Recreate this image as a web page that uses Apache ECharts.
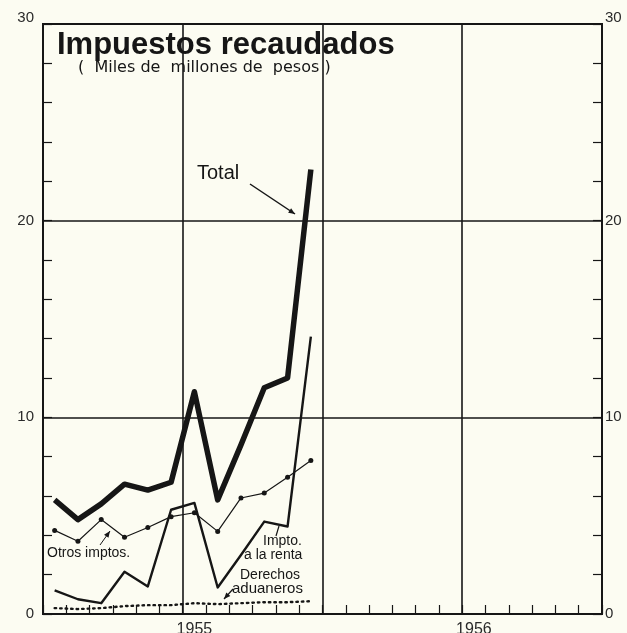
<!DOCTYPE html>
<html>
<head>
<meta charset="utf-8">
<script src="https://cdn.jsdelivr.net/npm/echarts@6/dist/echarts.min.js"></script>
<style>
  html, body { margin: 0; padding: 0; background: #fcfcf2; }
  #chart { width: 627px; height: 633px; }
</style>
</head>
<body>
<div id="chart"></div>
<script>
// meses de julio 1954 a junio 1956
const months = ['jul', 'ago', 'sep', 'oct', 'nov', 'dic', 'ene', 'feb', 'mar', 'abr', 'may', 'jun',
                'jul', 'ago', 'sep', 'oct', 'nov', 'dic', 'ene', 'feb', 'mar', 'abr', 'may', 'jun'];
const yearStarts = [6, 18]; // indice del mes de enero
const yearLabels = ['1955', '1956'];

// miles de millones de pesos
const total = [5.8, 4.8, 5.6, 6.6, 6.3, 6.7, 11.3, 5.8, 8.6, 11.5, 12.0, 22.6];
const otros = [4.25, 3.7, 4.8, 3.9, 4.4, 4.95, 5.15, 4.2, 5.9, 6.15, 6.95, 7.8];
const renta = [1.2, 0.75, 0.55, 2.15, 1.4, 5.3, 5.65, 1.35, 3.0, 4.7, 4.45, 14.1];
const derechos = [0.3, 0.25, 0.3, 0.4, 0.45, 0.45, 0.55, 0.5, 0.55, 0.6, 0.6, 0.65];

const ink = '#161616';
const font = 'Liberation Sans';

// flecha simple: linea + punta
function arrow(x1, y1, x2, y2, w) {
  const a = Math.atan2(y2 - y1, x2 - x1);
  const L = 7, s = 0.4;
  return {
    type: 'group',
    children: [
      { type: 'line', shape: { x1: x1, y1: y1, x2: x2, y2: y2 }, style: { stroke: ink, lineWidth: w || 1.3 } },
      {
        type: 'polygon',
        shape: {
          points: [
            [x2, y2],
            [x2 - L * Math.cos(a - s), y2 - L * Math.sin(a - s)],
            [x2 - L * Math.cos(a + s), y2 - L * Math.sin(a + s)]
          ]
        },
        style: { fill: ink }
      }
    ]
  };
}

function label(text, x, y, size, family) {
  return {
    type: 'text', left: x, top: y,
    style: { text: text, fill: ink, font: (size || 14) + 'px "' + (family || font) + '"' }
  };
}

// "30" va un poco arriba de la esquina
function yLabel(v) {
  return v === 30 ? '{top|30}' : String(v);
}

const chart = echarts.init(document.getElementById('chart'));

const option = {
  backgroundColor: '#fcfcf2',
  animation: false,
  title: {
    text: 'Impuestos recaudados',
    left: 57,
    top: 30,
    padding: 0,
    textStyle: { fontFamily: font, fontSize: 31, fontWeight: 'bold', color: ink }
  },
  grid: {
    left: 43, right: 25, top: 24, bottom: 19,
    outerBoundsMode: 'none',
    show: true, borderColor: ink, borderWidth: 2, backgroundColor: 'transparent'
  },
  xAxis: {
    type: 'category',
    data: months,
    boundaryGap: true,
    axisLine: { show: true, lineStyle: { color: ink, width: 2 } },
    axisTick: { show: true, inside: true, length: 9, interval: 0, lineStyle: { color: ink, width: 1.2 } },
    axisLabel: {
      interval: 0,
      color: '#2a2a2a', fontFamily: font, fontSize: 16, margin: 8,
      formatter: (v, i) => {
        const k = yearStarts.indexOf(i);
        return k >= 0 ? yearLabels[k] : '';
      }
    },
    splitLine: {
      show: true,
      interval: (i) => i > 0 && i % 6 === 0,
      lineStyle: { color: ink, width: 1.6 }
    }
  },
  yAxis: [
    {
      type: 'value', min: 0, max: 30, interval: 10, position: 'left',
      axisLine: { show: true, lineStyle: { color: ink, width: 2 } },
      axisTick: { show: true, inside: true, length: 9, lineStyle: { color: ink, width: 1.2 } },
      minorTick: { show: true, splitNumber: 5, length: 9, lineStyle: { color: ink, width: 1.2 } },
      axisLabel: {
        color: '#2a2a2a', fontFamily: font, fontSize: 15, margin: 9,
        formatter: yLabel, rich: { top: { padding: [0, 0, 12, 0], fontSize: 15, color: '#2a2a2a' } }
      },
      splitLine: { show: true, lineStyle: { color: ink, width: 1.6 } }
    },
    {
      type: 'value', min: 0, max: 30, interval: 10, position: 'right',
      axisLine: { show: true, lineStyle: { color: ink, width: 2 } },
      axisTick: { show: true, inside: true, length: 9, lineStyle: { color: ink, width: 1.2 } },
      minorTick: { show: true, splitNumber: 5, length: 9, lineStyle: { color: ink, width: 1.2 } },
      axisLabel: {
        color: '#2a2a2a', fontFamily: font, fontSize: 15, margin: 3,
        formatter: yLabel, rich: { top: { padding: [0, 0, 12, 0], fontSize: 15, color: '#2a2a2a' } }
      },
      splitLine: { show: false }
    }
  ],
  series: [
    {
      name: 'Total', type: 'line', data: total,
      symbol: 'none',
      lineStyle: { color: ink, width: 5.5, join: 'round' }
    },
    {
      name: 'Otros imptos.', type: 'line', data: otros,
      symbol: 'circle', symbolSize: 5, showSymbol: true,
      itemStyle: { color: ink },
      lineStyle: { color: ink, width: 1.2 }
    },
    {
      name: 'Impto. a la renta', type: 'line', data: renta,
      symbol: 'none',
      lineStyle: { color: ink, width: 2.4, join: 'round' }
    },
    {
      name: 'Derechos aduaneros', type: 'line', data: derechos,
      symbol: 'none',
      lineStyle: { color: ink, width: 2.4, type: [1.5, 4], cap: 'round' }
    }
  ],
  graphic: [
    label('(  Miles de  millones de  pesos )', 78, 60, 16, 'DejaVu Sans'),
    label('Total', 197, 163, 20),
    arrow(250, 184, 295, 214, 1.5),
    label('Otros imptos.', 47, 546, 14),
    arrow(100, 545, 110, 531, 1),
    label('Impto.', 263, 534, 14),
    label('a la renta', 244, 548, 14),
    { type: 'line', shape: { x1: 276, y1: 536, x2: 279, y2: 526 }, style: { stroke: ink, lineWidth: 1.2 } },
    label('Derechos', 240, 568, 14),
    label('aduaneros', 232, 581, 15),
    arrow(233, 589, 224, 599, 1.2)
  ]
};

chart.setOption(option);
</script>
</body>
</html>
